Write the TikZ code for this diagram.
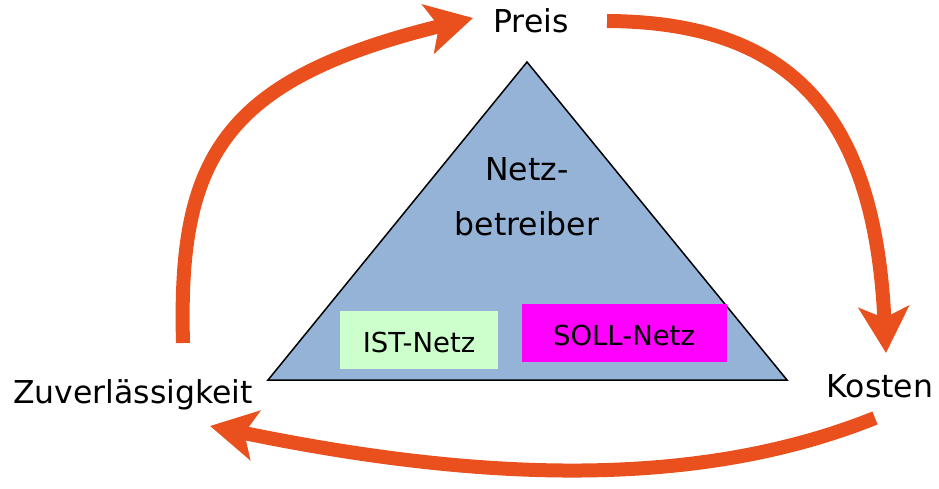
\documentclass[tikz,border=0pt]{standalone}
\usepackage{fontspec}
\setmainfont{DejaVu Sans}
\usetikzlibrary{arrows.meta}
\definecolor{cycleorange}{HTML}{E9501E}
\definecolor{trifill}{HTML}{95B3D7}
\definecolor{istgreen}{HTML}{CCFFCC}
\definecolor{sollmag}{HTML}{FF00FF}
\tikzset{
  labeltext/.style={inner sep=0pt, anchor=base, font=\fontsize{31.5}{36}\selectfont},
  boxtext/.style={inner sep=0pt, anchor=base, font=\fontsize{27.5}{32}\selectfont},
  cyclearrow/.style={draw=cycleorange, line width=14pt,
    -{Stealth[length=46pt, width=50pt, inset=11pt]}}
}
\begin{document}
\begin{tikzpicture}[x=1pt, y=-1pt]
  \useasboundingbox (0,0) rectangle (939,489);

  % central triangle with the two net boxes
  \draw[fill=trifill, line width=1.5pt, line join=miter]
    (527,62) coordinate (apex) -- (787,380) coordinate (bright)
    -- (268,380) coordinate (bleft) -- cycle;
  \fill[istgreen] (340,311) rectangle (498,369);
  \fill[sollmag] (522,304) rectangle (727,362);

  \node[labeltext] (netz) at (527,181) {Netz-};
  \node[labeltext] (betr) at (527,235) {betreiber};
  \node[boxtext] (ist) at (419,352) {IST-Netz};
  \node[boxtext] (soll) at (624,345) {SOLL-Netz};

  % corner labels
  \node[labeltext] (preis) at (531,33) {Preis};
  \node[labeltext] (kosten) at (880,397) {Kosten};
  \node[labeltext] (zuv) at (133,403) {Zuverlässigkeit};

  % end points of the cycle arrows
  \coordinate (zuvOut) at (183,343);
  \coordinate (preisIn) at (473,18);
  \coordinate (preisOut) at (607,21);
  \coordinate (kostenIn) at (886,353);
  \coordinate (kostenOut) at (875,418);
  \coordinate (zuvIn) at (210,426);

  \draw[cyclearrow] (zuvOut) .. controls (178,160) and (220,80) .. (preisIn);
  \draw[cyclearrow] (preisOut) .. controls (800,22) and (875,125) .. (kostenIn);
  \draw[cyclearrow] (kostenOut) .. controls (720,480) and (520,490) .. (zuvIn);
\end{tikzpicture}
\end{document}
